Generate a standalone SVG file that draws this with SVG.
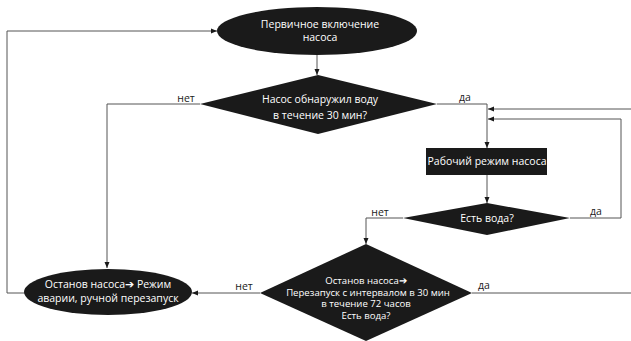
<svg xmlns="http://www.w3.org/2000/svg" width="631" height="341" viewBox="0 0 631 341">
<style>
.sh{fill:#1a1a1a}
.t{font-family:"Open Sans","Liberation Sans",sans-serif;font-size:10.5px;fill:#fff;text-anchor:middle}
.s{font-size:9.6px}
.l{font-family:"Open Sans","Liberation Sans",sans-serif;font-size:10.5px;fill:#1a1a1a;text-anchor:middle}
.c{fill:none;stroke:#555;stroke-width:1}
</style>
<defs>
<marker id="a" viewBox="0 0 6 6" refX="6" refY="3" markerWidth="6" markerHeight="6" orient="auto" markerUnits="userSpaceOnUse">
<path d="M0,0.5 L6,3 L0,5.5 Z" fill="#1a1a1a"/>
</marker>
</defs>
<g id="connectors">
<path class="c" d="M317,55 V75" marker-end="url(#a)"/>
<path class="c" d="M200,104 H107 V268" marker-end="url(#a)"/>
<path class="c" d="M437,104 H487 V148" marker-end="url(#a)"/>
<path class="c" d="M631,109 H488" marker-end="url(#a)"/>
<path class="c" d="M570,218 H621 V119 H488" marker-end="url(#a)"/>
<path class="c" d="M487,175 V203" marker-end="url(#a)"/>
<path class="c" d="M403,218 H366 V244" marker-end="url(#a)"/>
<path class="c" d="M260,293 H192" marker-end="url(#a)"/>
<path class="c" d="M472,293 H631"/>
<path class="c" d="M25,293 H7 V31 H217" marker-end="url(#a)"/>
<text class="l" x="186" y="102">нет</text>
<text class="l" x="465" y="101">да</text>
<text class="l" x="380" y="216">нет</text>
<text class="l" x="596" y="215">да</text>
<text class="l" x="244" y="290">нет</text>
<text class="l" x="484" y="289">да</text>
</g>
<g id="start">
<ellipse class="sh" cx="317" cy="31" rx="100" ry="24"/>
<text class="t" x="320" y="28">Первичное включение</text>
<text class="t" x="320" y="41">насоса</text>
</g>
<g id="check30">
<polygon class="sh" points="318,75 437,104 318,134 200,104"/>
<text class="t" x="320" y="103">Насос обнаружил воду</text>
<text class="t" x="320" y="119">в течение 30 мин?</text>
</g>
<g id="work">
<rect class="sh" x="426" y="148" width="121" height="27"/>
<text class="t" x="487" y="165">Рабочий режим насоса</text>
</g>
<g id="water">
<polygon class="sh" points="487,203 570,218 487,235 403,218"/>
<text class="t" x="487" y="222">Есть вода?</text>
</g>
<g id="restart">
<polygon class="sh" points="366,244 472,293 366,341 260,293"/>
<text class="t s" x="366" y="284">Останов насоса➔</text>
<text class="t s" x="368" y="295.5">Перезапуск с интервалом в 30 мин</text>
<text class="t s" x="366" y="307">в течение 72 часов</text>
<text class="t s" x="366" y="318.5">Есть вода?</text>
</g>
<g id="alarm">
<ellipse class="sh" cx="108" cy="292" rx="84" ry="23"/>
<text class="t" x="108" y="288">Останов насоса➔ Режим</text>
<text class="t" x="108" y="302">аварии, ручной перезапуск</text>
</g>
</svg>
